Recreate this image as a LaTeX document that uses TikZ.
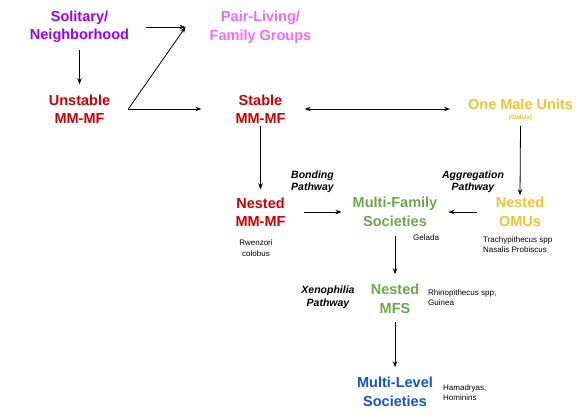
\documentclass[tikz,border=0pt]{standalone}
\usepackage{fontspec}
\setmainfont{Liberation Sans}
\usepackage{xcolor}
\usetikzlibrary{positioning, arrows.meta, calc}

\definecolor{solpurple}{HTML}{9900FF}
\definecolor{pairpink}{HTML}{F46AF4}
\definecolor{mmred}{HTML}{CC0000}
\definecolor{omugold}{HTML}{F1C232}
\definecolor{mfsgreen}{HTML}{6AA84F}
\definecolor{mlsblue}{HTML}{1155CC}

\begin{document}
\begin{tikzpicture}[x=1pt, y=-1pt,
    every node/.style={inner sep=0pt, align=center},
    stage/.style={font=\fontsize{14.5}{18.5}\selectfont\bfseries},
    path lbl/.style={font=\fontsize{10.5}{12.5}\selectfont\bfseries\itshape},
    species/.style={font=\fontsize{8}{10.5}\selectfont},
    arr/.style={-{Stealth[length=6pt,width=4.5pt]}, line width=0.8pt},
    arrs/.style={{Stealth[length=6pt,width=4.5pt]}-{Stealth[length=6pt,width=4.5pt]}, line width=0.8pt}]
    \useasboundingbox (0,0) rectangle (583,418);
        % stages
        \node [stage, text=solpurple] (sol) at (79.5,27) {Solitary/\\Neighborhood};
        \node [stage, text=pairpink] (pair) at (260.5,27) {Pair-Living/\\Family Groups};
        \node [stage, text=mmred] (unst) at (79.5,109) {Unstable\\MM-MF};
        \node [stage, text=mmred] (stab) at (260.5,109) {Stable\\MM-MF};
        \node [stage, text=omugold] (omu) at (520.5,104) {One Male Units};
        \node [font=\fontsize{6.5}{8}\selectfont\bfseries, text=omugold, below=5pt of omu] (omusub) {(OMUs)};
        \node [stage, text=mmred] (nmm) at (260.5,212) {Nested\\MM-MF};
        \node [stage, text=mfsgreen] (mfs) at (395,212) {Multi-Family\\Societies};
        \node [stage, text=omugold] (nomu) at (520,212) {Nested\\OMUs};
        \node [stage, text=mfsgreen] (nmfs) at (395,299) {Nested\\MFS};
        \node [stage, text=mlsblue] (mls) at (395,392) {Multi-Level\\Societies};
        % pathways
        \node [path lbl] (bond) at (312.5,182) {Bonding\\Pathway};
        \node [path lbl] (aggr) at (473,182) {Aggregation\\Pathway};
        \node [path lbl] (xeno) at (328,297.5) {Xenophilia\\Pathway};
        % species
        \node [species] (rwen) at (256,248) {Rwenzori\\colobus};
        \node [species, anchor=west] (gela) at (413,238) {Gelada};
        \node [species, anchor=west, align=left] (trach) at (483,244.5) {Trachypithecus spp\\Nasalis Probiscus};
        \node [species, anchor=west, align=left] (rhino) at (428,297.5) {Rhinopithecus spp,\\Guinea};
        \node [species, anchor=west, align=left] (hama) at (443,392.5) {Hamadryas,\\Hominins};
        % arrows
        \draw [arr] ([yshift=-7pt]sol.south) -- ([yshift=10pt]unst.north);
        \draw [arr] ([xshift=17pt]sol.east) -- ([xshift=-24pt]pair.west);
        \draw [arr] ([xshift=18pt]unst.east) -- ([xshift=-24pt]pair.west);
        \draw [arr] ([xshift=18pt]unst.east) -- ([xshift=-34pt]stab.west);
        \draw [arrs] ([xshift=19pt]stab.east) -- ([xshift=-18pt]omu.west |- stab.east);
        \draw [arr] ([yshift=-2pt]stab.south) -- ([yshift=8pt]nmm.north);
        \draw [arr] ([yshift=-5pt]omusub.south) -- ([yshift=2pt]nomu.north);
        \draw [arr] ([xshift=18pt]nmm.east) -- ([xshift=-11pt]mfs.west);
        \draw [arr] ([xshift=-19pt]nomu.west) -- ([xshift=11pt]mfs.east);
        \draw [arr] ([yshift=-9pt]mfs.south) -- ([yshift=10pt]nmfs.north);
        \draw [arr] ([yshift=-8pt]nmfs.south) -- ([yshift=10pt]mls.north);
\end{tikzpicture}
\end{document}
